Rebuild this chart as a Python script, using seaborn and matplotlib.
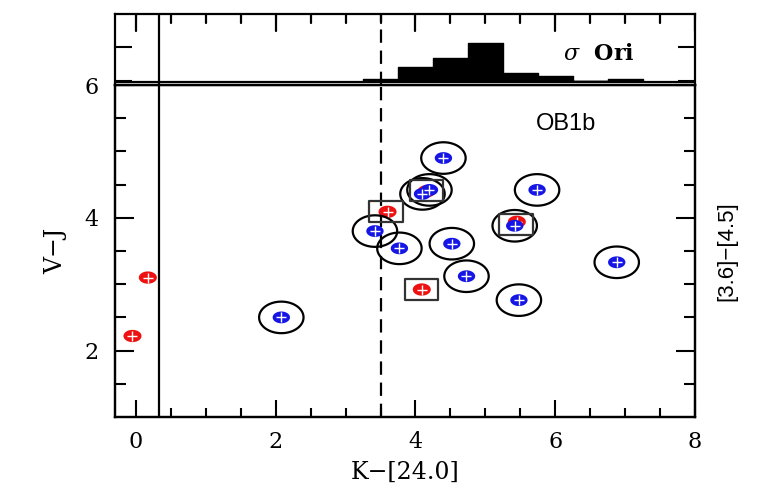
import numpy as np
import pandas as pd
import matplotlib
matplotlib.use("Agg")
import matplotlib.pyplot as plt
from matplotlib.path import Path
import seaborn as sns

# ---------------- data ----------------
disk_x = [2.08, 4.40, 4.10, 4.20, 5.74, 3.42, 3.77, 4.52, 5.42, 4.73, 5.48, 6.88]
disk_y = [2.50, 4.90, 4.36, 4.42, 4.42, 3.80, 3.54, 3.61, 3.88, 3.12, 2.76, 3.33]
red_x = [-0.05, 0.17, 3.60, 4.09, 5.45, 4.16]
red_y = [2.22, 3.10, 4.09, 2.92, 3.94, 4.40]
box_x = [3.58, 4.09, 5.44, 4.16]
box_y = [4.09, 2.92, 3.90, 4.41]
hist_edges = [3.25, 3.75, 4.25, 4.75, 5.25, 5.75, 6.25, 6.75, 7.25]
hist_heights = [0.03, 0.21, 0.35, 0.56, 0.12, 0.08, 0.0, 0.03]
x_ticks = [0, 2, 4, 6, 8]
y_ticks = [2, 4, 6]
solid_x = 0.33
dashed_x = 3.5

disk = pd.DataFrame({"x": disk_x, "y": disk_y})
red = pd.DataFrame({"x": red_x, "y": red_y})
box = pd.DataFrame({"x": box_x, "y": box_y})
centers = [(a + b) / 2 for a, b in zip(hist_edges[:-1], hist_edges[1:])]
hist = pd.DataFrame({"x": centers, "w": hist_heights})

sns.set_style("ticks")
plt.rcParams["font.family"] = ["DejaVu Serif"]
plt.rcParams["mathtext.fontset"] = "dejavuserif"
for k in ["text.color", "axes.labelcolor", "xtick.color", "ytick.color", "axes.edgecolor"]:
    plt.rcParams[k] = "black"
plt.rcParams["axes.axisbelow"] = False
plt.rcParams["xtick.direction"] = "in"
plt.rcParams["ytick.direction"] = "in"

def ellipse_path(ratio):
    t = np.linspace(0, 2 * np.pi, 80)
    v = np.column_stack([np.cos(t), ratio * np.sin(t)])
    return Path(v, closed=True)

def rect_path(ratio):
    v = [(-1, -ratio), (1, -ratio), (1, ratio), (-1, ratio), (-1, -ratio)]
    return Path(v, closed=True)

ell_big = ellipse_path(0.71)
ell_small = ellipse_path(0.68)
rect = rect_path(0.64)

fig = plt.figure(figsize=(7.62, 4.99), dpi=100)
L, R = 115 / 762, 695 / 762
B, M, T = 1 - 417 / 499, 1 - 85 / 499, 1 - 14 / 499
ax = fig.add_axes([L, B, R - L, M - B])
axt = fig.add_axes([L, M, R - L, T - M])

xlim = (-0.30, 8.0)

# ---------- top histogram ----------
sns.histplot(data=hist, x="x", weights="w", bins=hist_edges, element="step",
             fill=True, color="black", alpha=1.0, linewidth=1.0, ax=axt)
axt.axhline(-0.02, color="black", lw=1.6)
axt.axvline(solid_x, color="black", lw=1.6)
axt.axvline(dashed_x, color="black", lw=1.6, ls=(0, (6, 3.5)))
axt.set_xlim(*xlim)
axt.set_ylim(-0.06, 1.0)
axt.set_xticks(x_ticks)
axt.set_xticks(np.arange(0, 8.01, 0.5), minor=True)
axt.set_yticks([0, 0.5])
axt.set_ylabel("")
axt.set_xlabel("")
axt.tick_params(axis="x", which="both", direction="in", top=True, bottom=False,
                labeltop=False, labelbottom=False)
axt.tick_params(axis="y", which="major", direction="in", length=12, width=1.5,
                left=True, right=True, labelleft=False, labelright=False)
axt.text(6.62, 0.40, r"$\sigma$  Ori", fontsize=16, fontweight="bold",
         ha="center", va="center")

# tick marks hanging from the top edge of the histogram panel
panel_h_px = (T - M) * fig.get_figheight() * fig.dpi
major_len = 17 / panel_h_px
minor_len = 9 / panel_h_px
minor_pos = [v for v in np.arange(0, 8.01, 0.5) if v not in x_ticks]
for v in x_ticks:
    axt.axvline(v, ymin=1 - major_len, ymax=1.0, color="black", lw=1.6, zorder=6)
for v in minor_pos:
    axt.axvline(v, ymin=1 - minor_len, ymax=1.0, color="black", lw=1.6, zorder=6)

# ---------- main scatter ----------
sns.scatterplot(data=red, x="x", y="y", marker=ell_small, s=13 ** 2,
                color="#ee1111", edgecolor="none", linewidth=0, ax=ax, zorder=3)
sns.scatterplot(data=red, x="x", y="y", marker="+", s=7 ** 2,
                color="white", linewidth=1.0, ax=ax, zorder=4)
sns.scatterplot(data=disk, x="x", y="y", marker=ell_small, s=12.5 ** 2,
                color="#1515e6", edgecolor="none", linewidth=0, ax=ax, zorder=5)
sns.scatterplot(data=disk, x="x", y="y", marker="+", s=7 ** 2,
                color="white", linewidth=1.0, ax=ax, zorder=6)
sns.scatterplot(data=disk, x="x", y="y", marker=ell_big, s=32 ** 2,
                color="black", facecolor="none", edgecolor="black",
                linewidth=1.6, ax=ax, zorder=7)
sns.scatterplot(data=box, x="x", y="y", marker=rect, s=24 ** 2,
                color="#333333", facecolor="none", edgecolor="#333333",
                linewidth=1.6, ax=ax, zorder=7)

ax.axvline(solid_x, color="black", lw=1.6, zorder=2)
ax.axvline(dashed_x, color="black", lw=1.6, ls=(0, (6, 3.5)), zorder=2)

ax.text(6.16, 5.41, "OB1b", fontsize=17, family=["Liberation Sans"],
        ha="center", va="center")

ax.set_xlim(*xlim)
ax.set_ylim(1.0, 6.0)
ax.set_xticks(x_ticks)
ax.set_xticks(np.arange(0, 8.01, 0.5), minor=True)
ax.set_yticks(y_ticks)
ax.set_yticks(np.arange(1.5, 6.01, 0.5), minor=True)
ax.set_xticklabels([str(v) for v in x_ticks], fontsize=16)
ax.set_yticklabels([str(v) for v in y_ticks], fontsize=16)
ax.set_xlabel("K\u2212[24.0]", fontsize=17, labelpad=6)
ax.set_ylabel("V\u2212J", fontsize=17, labelpad=12)

ax2 = ax.twinx()
ax2.set_ylim(1.0, 6.0)
ax2.set_yticks(y_ticks)
ax2.set_yticks(np.arange(1.5, 6.01, 0.5), minor=True)
ax2.set_ylabel("[3.6]\u2212[4.5]", fontsize=16, family=["Liberation Sans"], labelpad=12)

for a in (ax, ax2, axt):
    for s in a.spines.values():
        s.set_linewidth(1.6)
        s.set_color("black")
        s.set_visible(True)

ax.tick_params(axis="x", which="major", direction="in", length=12, width=1.5,
               bottom=True, top=False, pad=10)
ax.tick_params(axis="x", which="minor", direction="in", length=6.5, width=1.5,
               bottom=True, top=False)
ax.tick_params(axis="y", which="major", direction="in", length=14, width=1.5,
               left=True, right=False, pad=12)
ax.tick_params(axis="y", which="minor", direction="in", length=8, width=1.5,
               left=True, right=False)
ax2.tick_params(axis="y", which="major", direction="in", length=14, width=1.5,
                left=False, right=True, labelright=False, labelleft=False)
ax2.tick_params(axis="y", which="minor", direction="in", length=8, width=1.5,
                left=False, right=True)

fig.savefig("out.png", dpi=100)
